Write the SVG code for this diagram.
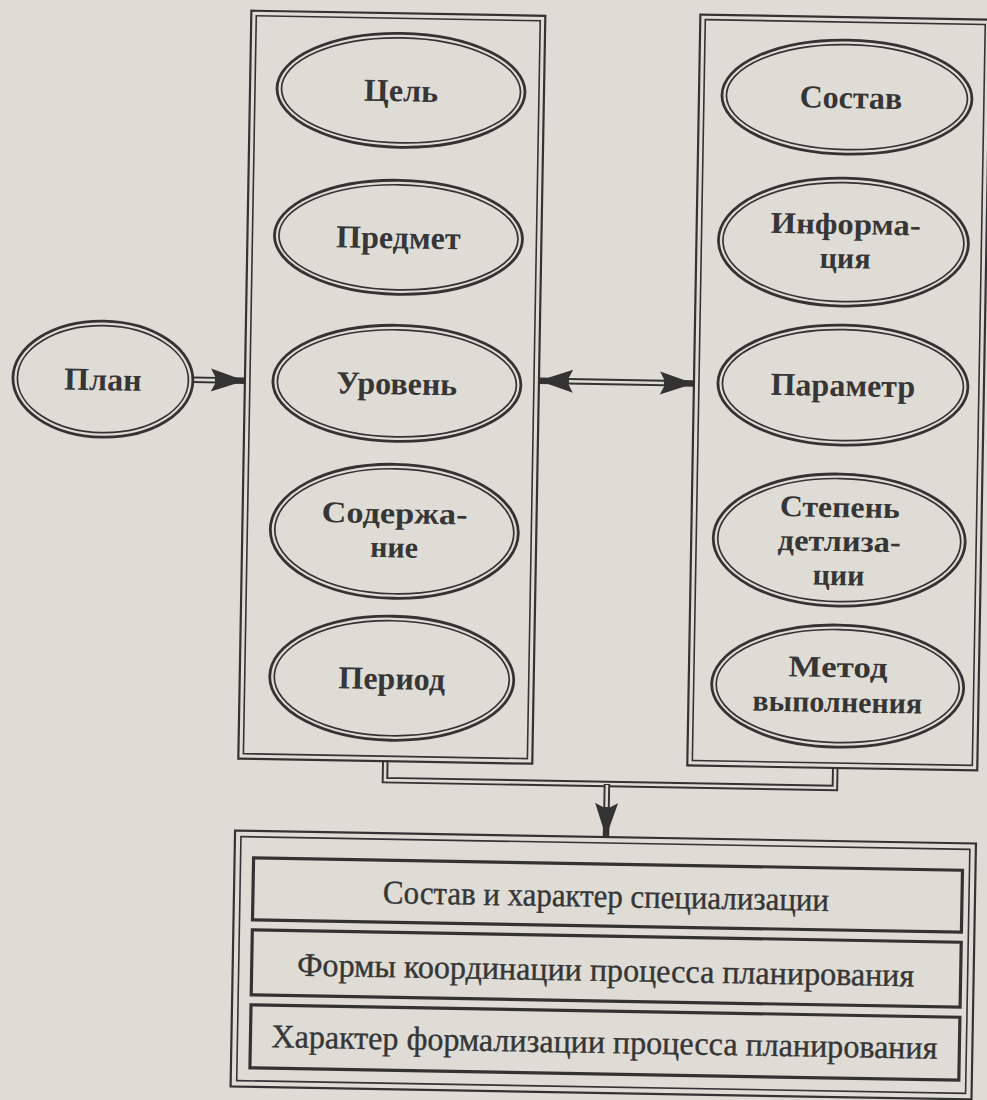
<svg xmlns="http://www.w3.org/2000/svg" width="987" height="1100" viewBox="0 0 987 1100">
  <defs>
    <style>
      .bg { fill: #dfdcd5; }
      .ln-o { fill: none; stroke: #333; stroke-width: 2.8; }
      .ln-i { fill: none; stroke: #333; stroke-width: 1.7; }
      .frame-o { fill: none; stroke: #333; stroke-width: 2.2; }
      .frame-i { fill: none; stroke: #333; stroke-width: 1.6; }
      .cell { fill: none; stroke: #333; stroke-width: 3.2; }
      .shaft { fill: none; stroke: #333; stroke-width: 6.5; stroke-linejoin: miter; }
      .gap { fill: none; stroke: #dfdcd5; stroke-width: 2.6; stroke-linejoin: miter; }
      .lbl { font-family: "Liberation Serif", "DejaVu Serif", serif; font-weight: bold; font-size: 32px; fill: #363636; text-anchor: middle; }
      .lbl2 { font-size: 30px; }
      .row { font-family: "Liberation Serif", "DejaVu Serif", serif; font-size: 33px; fill: #363636; stroke: #363636; stroke-width: 0.4; text-anchor: middle; }
    </style>
    <!-- barbed solid arrowhead, tip at the path end -->
    <marker id="head" markerUnits="userSpaceOnUse" viewBox="-36 -14 40 28" refX="0" refY="0" markerWidth="40" markerHeight="28" orient="auto-start-reverse">
      <path d="M0,0 L-34,-11.5 L-28,0 L-34,11.5 Z" fill="#333"/>
    </marker>
  </defs>

  <rect class="bg" x="0" y="0" width="987" height="1100"/>

  <g transform="rotate(1 493 550)">
    <!-- connectors -->
    <g id="connectors">
      <!-- План -> left column -->
      <path class="shaft" d="M190,385 H242" marker-end="url(#head)"/>
      <path class="gap" d="M190,385 H212"/>
      <!-- two-way link between the columns -->
      <path class="shaft" d="M536,380 H691" marker-start="url(#head)" marker-end="url(#head)"/>
      <path class="gap" d="M566,380 H661"/>
      <!-- bracket joining both columns -->
      <path class="shaft" d="M389,763 V782 H839 V762"/>
      <path class="gap" d="M389,763 V782 H839 V762"/>
      <!-- down to the result block -->
      <path class="shaft" d="M611,782 V835" marker-end="url(#head)"/>
      <path class="gap" d="M611,783 V805"/>
    </g>

    <!-- input -->
    <g id="plan">
      <ellipse class="ln-o" cx="100" cy="386" rx="90" ry="58"/>
      <ellipse class="ln-i" cx="100" cy="386" rx="85.5" ry="53.5"/>
      <text class="lbl" x="100" y="397">План</text>
    </g>

    <!-- left column -->
    <g id="col-left">
      <rect class="frame-o" x="242" y="15" width="294" height="748"/>
      <rect class="frame-i" x="247" y="20" width="284" height="738"/>
    </g>
    <g id="goal">
      <ellipse class="ln-o" cx="393" cy="92" rx="124" ry="57"/>
      <ellipse class="ln-i" cx="393" cy="92" rx="119.5" ry="52.5"/>
      <text class="lbl" x="393" y="103">Цель</text>
    </g>
    <g id="subject">
      <ellipse class="ln-o" cx="393" cy="239" rx="124" ry="57"/>
      <ellipse class="ln-i" cx="393" cy="239" rx="119.5" ry="52.5"/>
      <text class="lbl" x="393" y="250">Предмет</text>
    </g>
    <g id="level">
      <ellipse class="ln-o" cx="394" cy="385" rx="124" ry="58"/>
      <ellipse class="ln-i" cx="394" cy="385" rx="119.5" ry="53.5"/>
      <text class="lbl" x="394" y="396">Уровень</text>
    </g>
    <g id="content">
      <ellipse class="ln-o" cx="394" cy="533" rx="124" ry="67"/>
      <ellipse class="ln-i" cx="394" cy="533" rx="119.5" ry="62.5"/>
      <text class="lbl lbl2" x="394" y="525" textLength="146" lengthAdjust="spacingAndGlyphs">Содержа-</text>
      <text class="lbl lbl2" x="394" y="559">ние</text>
    </g>
    <g id="period">
      <ellipse class="ln-o" cx="394" cy="680" rx="122" ry="62"/>
      <ellipse class="ln-i" cx="394" cy="680" rx="117.5" ry="57.5"/>
      <text class="lbl" x="394" y="691">Период</text>
    </g>

    <!-- right column -->
    <g id="col-right">
      <rect class="frame-o" x="691" y="11" width="290" height="751"/>
      <rect class="frame-i" x="696" y="16" width="280" height="741"/>
    </g>
    <g id="composition">
      <ellipse class="ln-o" cx="839" cy="91" rx="125" ry="57"/>
      <ellipse class="ln-i" cx="839" cy="91" rx="120.5" ry="52.5"/>
      <text class="lbl" x="843" y="102">Состав</text>
    </g>
    <g id="information">
      <ellipse class="ln-o" cx="838" cy="236" rx="125" ry="64"/>
      <ellipse class="ln-i" cx="838" cy="236" rx="120.5" ry="59.5"/>
      <text class="lbl lbl2" x="840" y="228" textLength="150" lengthAdjust="spacingAndGlyphs">Информа-</text>
      <text class="lbl lbl2" x="840" y="262">ция</text>
    </g>
    <g id="parameter">
      <ellipse class="ln-o" cx="840" cy="379" rx="125" ry="60"/>
      <ellipse class="ln-i" cx="840" cy="379" rx="120.5" ry="55.5"/>
      <text class="lbl" x="840" y="390">Параметр</text>
    </g>
    <g id="detail">
      <ellipse class="ln-o" cx="839" cy="534" rx="126" ry="66"/>
      <ellipse class="ln-i" cx="839" cy="534" rx="121.5" ry="61.5"/>
      <text class="lbl lbl2" x="839" y="511" textLength="120" lengthAdjust="spacingAndGlyphs">Степень</text>
      <text class="lbl lbl2" x="839" y="545" textLength="123" lengthAdjust="spacingAndGlyphs">детлиза-</text>
      <text class="lbl lbl2" x="839" y="579">ции</text>
    </g>
    <g id="method">
      <ellipse class="ln-o" cx="840" cy="680" rx="126" ry="61"/>
      <ellipse class="ln-i" cx="840" cy="680" rx="121.5" ry="56.5"/>
      <text class="lbl lbl2" x="840" y="671" textLength="99" lengthAdjust="spacingAndGlyphs">Метод</text>
      <text class="lbl lbl2" x="840" y="706">выполнения</text>
    </g>

    <!-- result block -->
    <g id="result">
      <rect class="frame-o" x="240" y="835" width="741" height="256"/>
      <rect class="frame-i" x="246" y="841" width="729" height="244"/>
    </g>
    <g id="row-1">
      <rect class="cell" x="259" y="862" width="709" height="62"/>
      <text class="row" x="612" y="905" textLength="446" lengthAdjust="spacingAndGlyphs">Состав и характер специализации</text>
    </g>
    <g id="row-2">
      <rect class="cell" x="259" y="934" width="709" height="65"/>
      <text class="row" x="613" y="979" textLength="617" lengthAdjust="spacingAndGlyphs">Формы координации процесса планирования</text>
    </g>
    <g id="row-3">
      <rect class="cell" x="259" y="1009" width="709" height="63"/>
      <text class="row" x="613" y="1051" textLength="666" lengthAdjust="spacingAndGlyphs">Характер формализации процесса планирования</text>
    </g>
  </g>
</svg>
